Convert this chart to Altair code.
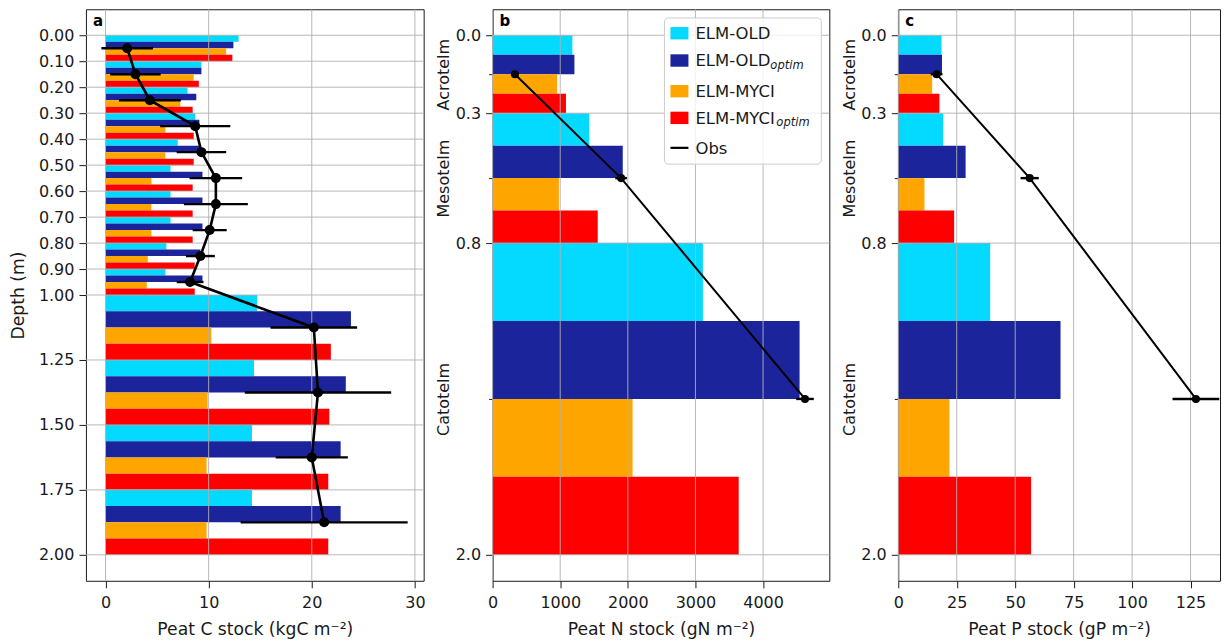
import altair as alt
import pandas as pd

# ---------------- data ----------------
model_keys = ["ELM-OLD", "ELM-OLD optim", "ELM-MYCI", "ELM-MYCI optim"]
model_base = ["ELM-OLD", "ELM-OLD", "ELM-MYCI", "ELM-MYCI"]
model_sub = ["", "optim", "", "optim"]

# panel a: layer edges (m) and peat C stock (kgC m-2)
depth_edges_a = [0.0, 0.1, 0.2, 0.3, 0.4, 0.5, 0.6, 0.7, 0.8, 0.9, 1.0, 1.25, 1.5, 1.75, 2.0]
c_old = [12.9, 9.3, 7.95, 8.7, 7.0, 6.3, 6.3, 6.3, 5.9, 5.8, 14.7, 14.4, 14.2, 14.2]
c_old_optim = [12.4, 9.3, 8.8, 9.1, 9.1, 9.4, 9.4, 9.4, 9.2, 9.4, 23.8, 23.3, 22.8, 22.8]
c_myci = [11.7, 8.55, 7.25, 5.8, 5.8, 4.45, 4.45, 4.45, 4.1, 4.0, 10.25, 9.9, 9.8, 9.8]
c_myci_optim = [12.3, 9.05, 8.45, 8.55, 8.55, 8.45, 8.45, 8.45, 8.65, 8.65, 21.85, 21.7, 21.6, 21.6]
obs_depth_a = [0.05, 0.15, 0.25, 0.35, 0.45, 0.55, 0.65, 0.75, 0.85, 0.95, 1.125, 1.375, 1.625, 1.875]
obs_c = [2.1, 2.9, 4.3, 8.7, 9.3, 10.7, 10.7, 10.1, 9.2, 8.2, 20.2, 20.6, 20.0, 21.2]
obs_c_err = [2.5, 2.45, 3.0, 3.4, 2.4, 2.55, 3.1, 1.65, 1.4, 1.3, 4.2, 7.1, 3.5, 8.1]

# panels b, c: peat zones
zone_names = ["Acrotelm", "Mesotelm", "Catotelm"]
zone_edges = [0.0, 0.3, 0.8, 2.0]
zone_mid = [0.15, 0.55, 1.4]

n_old = [1180, 1430, 3110]
n_old_optim = [1210, 1925, 4540]
n_myci = [955, 980, 2070]
n_myci_optim = [1085, 1555, 3640]
obs_n = [330, 1900, 4620]
obs_n_err = [40, 86, 130]

p_old = [18.5, 19.2, 39.3]
p_old_optim = [18.7, 28.8, 69.4]
p_myci = [14.5, 11.2, 21.9]
p_myci_optim = [17.6, 23.9, 56.8]
obs_p = [16.4, 56.2, 127.3]
obs_p_err = [2.5, 3.9, 10.0]

xticks_c = [0, 10, 20, 30]
xticks_n = [0, 1000, 2000, 3000, 4000]
xticks_p = [0, 25, 50, 75, 100, 125]

# ---------------- style ----------------
COLORS = ["#04d9ff", "#1c249c", "#ffa500", "#ff0000"]
FONT = "DejaVu Sans"
TXT = "#1a1a1a"
GRID = "#b0b0b0"
H = 572


def bar_table(edges, series):
    rows = []
    for i in range(len(edges) - 1):
        t, b = edges[i], edges[i + 1]
        h = (b - t) / 4.0
        for k, vals in enumerate(series):
            rows.append({"model": model_keys[k], "value": vals[i],
                         "top": t + k * h, "bot": t + (k + 1) * h})
    return pd.DataFrame(rows)


def legend_layers():
    out = []
    out.append(alt.Chart(pd.DataFrame({"a": [0]})).mark_rect(
        fill="white", fillOpacity=0.8, stroke="#cccccc", strokeWidth=1, cornerRadius=4
    ).encode(x=alt.value(172), x2=alt.value(329), y=alt.value(8.7), y2=alt.value(155)))
    centers = [24, 51.3, 82, 108.7]
    sub_x = [0, 278, 0, 284]
    for k in range(4):
        cy = centers[k]
        out.append(alt.Chart(pd.DataFrame({"m": [model_keys[k]]})).mark_rect(
            color=COLORS[k]
        ).encode(x=alt.value(178), x2=alt.value(196), y=alt.value(cy - 6.2), y2=alt.value(cy + 6.2)))
        out.append(alt.Chart(pd.DataFrame({"t": [model_base[k]]})).mark_text(
            font=FONT, fontSize=16.5, align="left", baseline="alphabetic", color=TXT
        ).encode(text="t:N", x=alt.value(203), y=alt.value(cy + 5.9)))
        if model_sub[k]:
            out.append(alt.Chart(pd.DataFrame({"t": [model_sub[k]]})).mark_text(
                font=FONT, fontSize=11.5, fontStyle="italic", align="left",
                baseline="alphabetic", color=TXT
            ).encode(text="t:N", x=alt.value(sub_x[k]), y=alt.value(cy + 8)))
    cy = 138.7
    out.append(alt.Chart(pd.DataFrame({"t": ["Obs"]})).mark_rule(
        color="black", strokeWidth=2.2
    ).encode(x=alt.value(178), x2=alt.value(196), y=alt.value(cy)))
    out.append(alt.Chart(pd.DataFrame({"t": ["Obs"]})).mark_text(
        font=FONT, fontSize=16.5, align="left", baseline="alphabetic", color=TXT
    ).encode(text="t:N", x=alt.value(203), y=alt.value(cy + 5.9)))
    return out


def make_panel(letter, edges, series, obs_depth, obs, err, xdom, width, xticks,
               xtitle, yticks, yfmt, ytitle, zones, legend, lw, ew, ps):
    ys = alt.Scale(domain=[-0.1, 2.1], reverse=True, nice=False, zero=False)
    xs = alt.Scale(domain=xdom, nice=False, zero=False)
    xax = alt.Axis(values=xticks, title=xtitle, tickSize=7, labelPadding=7,
                   titlePadding=10, format="d")
    yax = alt.Axis(values=yticks, format=yfmt, tickSize=7, labelPadding=5,
                   title=ytitle, titlePadding=11, orient="left")

    bdf = bar_table(edges, series)
    bars = alt.Chart(bdf).mark_rect().encode(
        x=alt.X("value:Q", scale=xs, axis=xax),
        x2=alt.datum(0),
        y=alt.Y("top:Q", scale=ys, axis=yax),
        y2="bot:Q",
        color=alt.Color("model:N", scale=alt.Scale(domain=model_keys, range=COLORS), legend=None),
    )
    vgrid = alt.Chart(pd.DataFrame({"t": xticks})).mark_rule(color=GRID, strokeWidth=0.9).encode(
        x=alt.X("t:Q", scale=xs, axis=xax))
    hgrid = alt.Chart(pd.DataFrame({"t": yticks})).mark_rule(color=GRID, strokeWidth=0.9).encode(
        y=alt.Y("t:Q", scale=ys, axis=yax))

    odf = pd.DataFrame({"depth": obs_depth, "value": obs,
                        "lo": [o - e for o, e in zip(obs, err)],
                        "hi": [o + e for o, e in zip(obs, err)]})
    line = alt.Chart(odf).mark_line(color="black", strokeWidth=lw).encode(
        x=alt.X("value:Q", scale=xs, axis=xax),
        y=alt.Y("depth:Q", scale=ys, axis=yax),
        order="depth:Q")
    errs = alt.Chart(odf).mark_rule(color="black", strokeWidth=ew).encode(
        x=alt.X("lo:Q", scale=xs, axis=xax), x2="hi:Q",
        y=alt.Y("depth:Q", scale=ys, axis=yax))
    pts = alt.Chart(odf).mark_circle(color="black", size=ps, opacity=1).encode(
        x=alt.X("value:Q", scale=xs, axis=xax),
        y=alt.Y("depth:Q", scale=ys, axis=yax))
    lab = alt.Chart(pd.DataFrame({"t": [letter]})).mark_text(
        font=FONT, fontSize=15, fontWeight="bold", align="left", baseline="alphabetic", color="black"
    ).encode(text="t:N", x=alt.value(7), y=alt.value(17))

    layers = [bars, vgrid, hgrid, line, errs, pts, lab]
    if legend:
        layers += legend_layers()
    inner = alt.layer(*layers)

    if zones:
        zdf = pd.DataFrame({"mid": zone_mid, "zone": zone_names})
        expr = "datum.value < {0} ? '{1}' : datum.value < {2} ? '{3}' : '{4}'".format(
            zone_edges[1], zone_names[0], zone_edges[2], zone_names[1], zone_names[2])
        zlayer = alt.Chart(zdf).mark_point(opacity=0).encode(
            y=alt.Y("mid:Q", scale=ys, axis=alt.Axis(
                values=zone_mid, labelExpr=expr, labelAngle=270, tickSize=4,
                labelPadding=40, labelAlign="center", labelBaseline="alphabetic",
                title="", grid=False, orient="left")))
        chart = alt.layer(inner, zlayer).resolve_axis(y="independent")
    else:
        chart = inner
    return chart.properties(width=width, height=H)


pa = make_panel("a", depth_edges_a, [c_old, c_old_optim, c_myci, c_myci_optim],
                obs_depth_a, obs_c, obs_c_err, [-1.9, 30.85], 338, xticks_c,
                "Peat C stock (kgC m\u207b\u00b2)", depth_edges_a, ".2f", "Depth (m)",
                False, False, 2.6, 2.4, 100)
pb = make_panel("b", zone_edges, [n_old, n_old_optim, n_myci, n_myci_optim],
                zone_mid, obs_n, obs_n_err, [0, 4980], 337, xticks_n,
                "Peat N stock (gN m\u207b\u00b2)", zone_edges, ".1f", "",
                True, True, 2.0, 2.4, 65)
pc = make_panel("c", zone_edges, [p_old, p_old_optim, p_myci, p_myci_optim],
                zone_mid, obs_p, obs_p_err, [0, 137.6], 322, xticks_p,
                "Peat P stock (gP m\u207b\u00b2)", zone_edges, ".1f", "",
                True, False, 2.0, 2.4, 65)

chart = alt.hconcat(pa, pb, pc, spacing=69, bounds="flush").properties(
    padding=0
).configure(font=FONT).configure_axis(
    labelFont=FONT, labelFontSize=16, labelColor=TXT,
    titleFont=FONT, titleFontSize=17.2, titleFontWeight="normal", titleColor=TXT,
    tickColor=TXT, tickWidth=1, domain=False, grid=False,
    labelFlush=False, labelOverlap=False,
).configure_view(stroke=TXT, strokeWidth=1)

chart.save("out.html", embed_options={"renderer": "svg", "actions": False})
